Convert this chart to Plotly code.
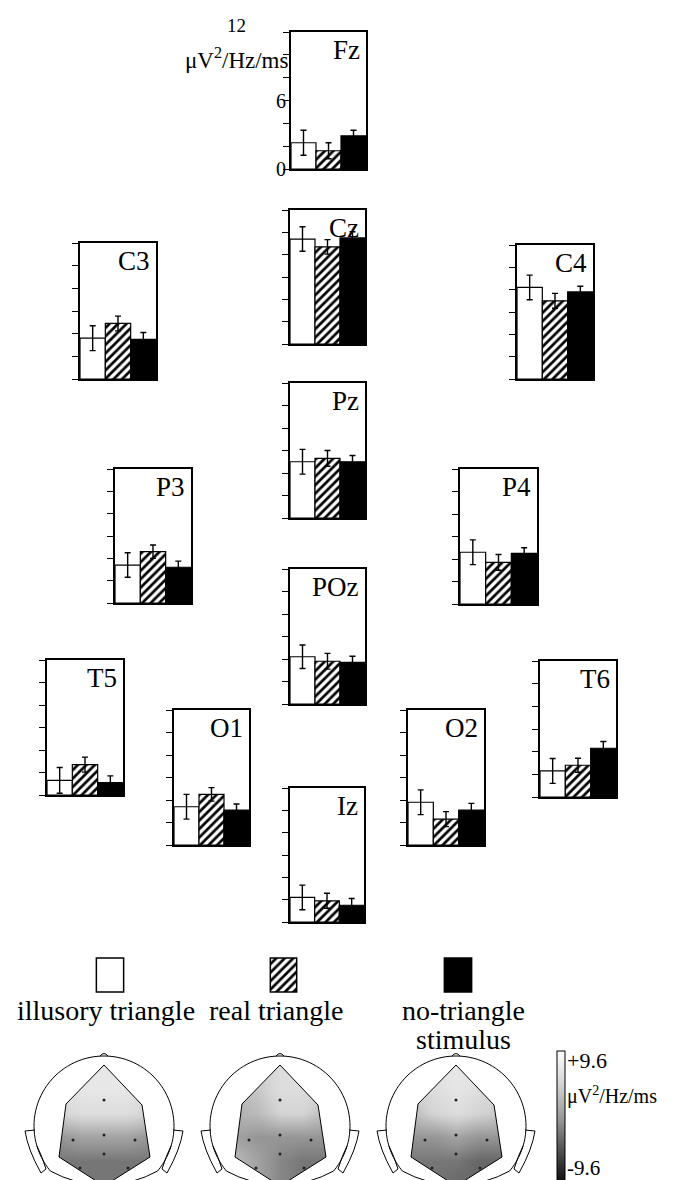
import numpy as np
import plotly.graph_objects as go

W, H = 674, 1180
FONT = "Liberation Serif"

# ---------------- data ----------------
electrodes = ["Fz", "Cz", "C3", "C4", "Pz", "P3", "P4", "POz", "T5", "O1", "O2", "T6", "Iz"]
conditions = ["illusory triangle", "real triangle", "no-triangle stimulus"]
illusory = [2.3, 9.4, 3.6, 8.2, 5.0, 3.4, 4.6, 4.2, 1.3, 3.4, 3.8, 2.3, 2.2]
illusory_err = [1.1, 1.1, 1.1, 1.1, 1.1, 1.1, 1.1, 1.05, 1.15, 1.1, 1.1, 1.1, 1.1]
real = [1.6, 8.7, 4.9, 7.0, 5.3, 4.6, 3.7, 3.8, 2.7, 4.5, 2.3, 2.8, 1.9]
real_err = [0.7, 0.65, 0.65, 0.67, 0.7, 0.6, 0.7, 0.7, 0.67, 0.6, 0.67, 0.62, 0.67]
no_triangle = [2.9, 9.5, 3.5, 7.8, 5.0, 3.2, 4.5, 3.7, 1.1, 3.1, 3.1, 4.3, 1.5]
no_triangle_err = [0.5, 0.55, 0.6, 0.5, 0.55, 0.55, 0.5, 0.55, 0.6, 0.55, 0.6, 0.6, 0.6]
y_tick_values = [0, 2, 4, 6, 8, 10, 12]
fz_tick_labels = {0: "0", 6: "6"}
top_tick_label = "12"
unit_label = "μV<sup>2</sup>/Hz/ms"

# electrode montage on the head maps (local map units, y up)
map_names = ["Fz", "Cz", "C3", "C4", "Pz", "P3", "P4", "POz", "T5", "O1", "O2", "T6", "Iz"]
map_x = [0, 0, -38, 38, 0, -31, 31, 0, -45, -24, 24, 46, 0]
map_y = [61, 26, 22, 21, -9, -14, -14, -28, -31, -42, -42, -31, -60]
hull_order = ["Fz", "C4", "T6", "Iz", "T5", "C3"]

# topographic values (μV²/Hz/ms) read as grey levels, rows top->bottom
topo_grid_x = [-46, -23, 0, 23, 46]
topo_grid_y = [61, 37, 13, -11, -35, -60]
topo_illusory = [[7, 7, 7, 7, 7], [6, 7, 7, 7, 6], [5, 6, 6, 6, 5],
                 [0, 1, 1, 1, 0], [-2, -2, -2, -2, -2], [-2, -2, -2, -2, -2]]
topo_real = [[4, 5, 6, 6, 6], [3, 4, 6, 6, 5], [2, 3, 5, 5, 3],
             [1, 0, 0, 0, 0], [3, 1, -1, -2, -2], [2, 1, -1, -2, -2]]
topo_none = [[6, 7, 7, 7, 6], [5, 6, 7, 6, 5], [3, 5, 6, 5, 4],
             [0, 0, 1, 0, 0], [-2, -2, -2, -3, -3], [-2, -2, -3, -3, -3]]
colorbar_limits = [-9.6, 9.6]
colorbar_labels = ["+9.6", "-9.6"]

# ---------------- layout positions (pixels) ----------------
panel_boxes = {
    "Fz": (283, 358, 24, 161), "Cz": (282, 357, 202, 336),
    "C3": (72, 148, 235, 371), "C4": (509, 585, 237, 371),
    "Pz": (282, 357, 375, 510), "P3": (107, 183, 461, 595),
    "P4": (452, 529, 461, 596), "POz": (282, 357, 561, 696),
    "T5": (39, 115, 652, 787), "O1": (166, 241, 702, 837),
    "O2": (400, 476, 702, 837), "T6": (532, 608, 653, 789),
    "Iz": (282, 356, 780, 914),
}
legend_boxes = [(88, 116), (262, 289), (436, 464)]
legend_top, legend_bottom = 950, 984
head_centers = [96, 272, 448]


def px(x):
    return x / W


def py(y):
    return 1 - y / H


hatch = dict(shape="/", fgcolor="black", bgcolor="white", size=6, solidity=0.45, fillmode="replace")
series = [
    (illusory, illusory_err, dict(color="white", line=dict(color="black", width=1.2))),
    (real, real_err, dict(color="white", pattern=hatch, line=dict(color="black", width=1.2))),
    (no_triangle, no_triangle_err, dict(color="black", line=dict(color="black", width=1.2))),
]

fig = go.Figure()
layout = {}
annotations = []
shapes = []

axis_common = dict(showgrid=False, zeroline=False, showline=True, mirror=True,
                   linecolor="black", linewidth=1.5)

for i, e in enumerate(electrodes):
    n = i + 1
    s = "" if n == 1 else str(n)
    x0, x1, yt, yb = panel_boxes[e]
    for c, (vals, errs, mk) in enumerate(series):
        fig.add_trace(go.Bar(
            x=[conditions[c]], y=[vals[i]], width=1,
            error_y=dict(type="data", array=[errs[i]], color="black", thickness=1.4, width=3),
            marker=mk, xaxis="x" + s, yaxis="y" + s, showlegend=False,
        ))
    layout["xaxis" + s] = dict(domain=[px(x0), px(x1)], anchor="y" + s, type="category",
                               categoryorder="array", categoryarray=conditions,
                               range=[-0.5, 2.5], showticklabels=False, ticks="", **axis_common)
    layout["yaxis" + s] = dict(domain=[py(yb), py(yt)], anchor="x" + s, range=[0, 12],
                               tickvals=y_tick_values, ticks="outside", ticklen=6, tickwidth=1.3,
                               tickcolor="black", showticklabels=False, **axis_common)
    annotations.append(dict(text=e, xref="x" + s + " domain", yref="y" + s + " domain",
                            x=1, y=1, xanchor="right", yanchor="top", xshift=-4, yshift=-1,
                            showarrow=False, font=dict(family=FONT, size=27, color="black")))

# Fz tick labels and unit
fx0, fx1, fyt, fyb = panel_boxes["Fz"]
for v, lab in fz_tick_labels.items():
    annotations.append(dict(text=lab, xref="paper", yref="y", x=px(fx0), y=v, xanchor="right",
                            yanchor="middle", xshift=-3, showarrow=False,
                            font=dict(family=FONT, size=20, color="black")))
annotations.append(dict(text=top_tick_label, xref="paper", yref="paper", x=px(228), y=py(18),
                        xanchor="center", yanchor="middle", showarrow=False,
                        font=dict(family=FONT, size=19, color="black")))
annotations.append(dict(text=unit_label, xref="paper", yref="paper", x=px(282), y=py(50),
                        xanchor="right", yanchor="middle", showarrow=False,
                        font=dict(family=FONT, size=23, color="black")))

# legend swatches as tiny bar subplots
for k, (lx0, lx1) in enumerate(legend_boxes):
    n = 14 + k
    s = str(n)
    vals, errs, mk = series[k]
    mk2 = dict(mk)
    mk2["line"] = dict(color="black", width=1.5)
    fig.add_trace(go.Bar(x=[conditions[k]], y=[1], width=1, marker=mk2,
                         xaxis="x" + s, yaxis="y" + s, showlegend=False))
    layout["xaxis" + s] = dict(domain=[px(lx0 - 1), px(lx1 + 1)], anchor="y" + s, type="category",
                               range=[-0.55, 0.55], visible=False)
    layout["yaxis" + s] = dict(domain=[py(legend_bottom + 1), py(legend_top - 1)], anchor="x" + s,
                               range=[-0.03, 1.03], visible=False)

legend_text = [("illusory triangle", 98, 1002), ("real triangle", 268, 1002),
               ("no-triangle", 455, 1002), ("stimulus", 455, 1031)]
for t, tx, ty in legend_text:
    annotations.append(dict(text=t, xref="paper", yref="paper", x=px(tx), y=py(ty),
                            xanchor="center", yanchor="middle", showarrow=False,
                            font=dict(family=FONT, size=28, color="black")))

# head maps
topo_sets = [topo_illusory, topo_real, topo_none]
pos = {nm: (x, y) for nm, x, y in zip(map_names, map_x, map_y)}
hull = [pos[nm] for nm in hull_order]
hull_path = "M " + " L ".join(f"{x},{y}" for x, y in hull) + " Z"
ang = np.radians(np.linspace(220, -40, 80))
r = 70
arc = [(r * np.cos(a), r * np.sin(a)) for a in ang]
head_path = "M " + " L ".join(f"{x:.2f},{y:.2f}" for x, y in arc)
head_path += f" Q 30,-58 0,-60 Q -30,-58 {arc[0][0]:.2f},{arc[0][1]:.2f}"
ear_l = "M -69,-4 L -79,-5 Q -76,-24 -63,-47 L -58,-43 Q -62,-30 -67,-20"
ear_r = "M 69,-4 L 79,-5 Q 76,-24 63,-47 L 58,-43 Q 62,-30 67,-20"
nose = "M -4,69.9 Q 0,75 4,69.9"
topo_colorscale = [[0, "#000000"], [0.25, "#4a4a4a"], [0.5, "#969696"], [0.75, "#d2d2d2"], [1, "#ffffff"]]

interior = [nm for nm in map_names if nm not in hull_order]
for k, cx in enumerate(head_centers):
    n = 17 + k
    s = str(n)
    fig.add_trace(go.Heatmap(x=topo_grid_x, y=topo_grid_y, z=topo_sets[k], zsmooth="best",
                             coloraxis="coloraxis", xaxis="x" + s, yaxis="y" + s, hoverinfo="skip"))
    fig.add_trace(go.Scatter(x=[pos[nm][0] for nm in interior], y=[pos[nm][1] for nm in interior],
                             mode="markers", marker=dict(size=3, color="#222222"),
                             xaxis="x" + s, yaxis="y" + s, showlegend=False, hoverinfo="skip"))
    layout["xaxis" + s] = dict(domain=[px(cx - 85), px(cx + 85)], anchor="y" + s,
                               range=[-85, 85], visible=False)
    layout["yaxis" + s] = dict(domain=[py(1180), py(1040)], anchor="x" + s,
                               range=[-62, 78], visible=False)
    xr, yr = "x" + s, "y" + s
    shapes.append(dict(type="path", xref=xr, yref=yr, layer="above", fillrule="evenodd",
                       path="M -62,-76 L 62,-76 L 62,76 L -62,76 Z " + hull_path,
                       fillcolor="white", line=dict(width=0)))
    for p_ in [hull_path, head_path, ear_l, ear_r, nose]:
        shapes.append(dict(type="path", xref=xr, yref=yr, layer="above", path=p_,
                           line=dict(color="black", width=1)))

# colour bar texts
for t, ty, fs in [(colorbar_labels[0], 1052, 22), (unit_label, 1087, 20), (colorbar_labels[1], 1160, 21)]:
    annotations.append(dict(text=t, xref="paper", yref="paper", x=px(557), y=py(ty),
                            xanchor="left", yanchor="middle", showarrow=False,
                            font=dict(family=FONT, size=fs, color="black")))

fig.update_layout(
    width=W, height=H, margin=dict(l=0, r=0, t=0, b=0),
    paper_bgcolor="white", plot_bgcolor="white",
    barmode="overlay", showlegend=False,
    annotations=annotations, shapes=shapes,
    coloraxis=dict(cmin=colorbar_limits[0], cmax=colorbar_limits[1], colorscale=topo_colorscale,
                   colorbar=dict(x=px(549), xanchor="left", y=0, yanchor="bottom",
                                 len=(1180 - 1043) / H, lenmode="fraction", thickness=8,
                                 xpad=0, ypad=0, outlinewidth=1, outlinecolor="black",
                                 showticklabels=False, ticks="")),
    **layout,
)

fig.write_html("out.html")
